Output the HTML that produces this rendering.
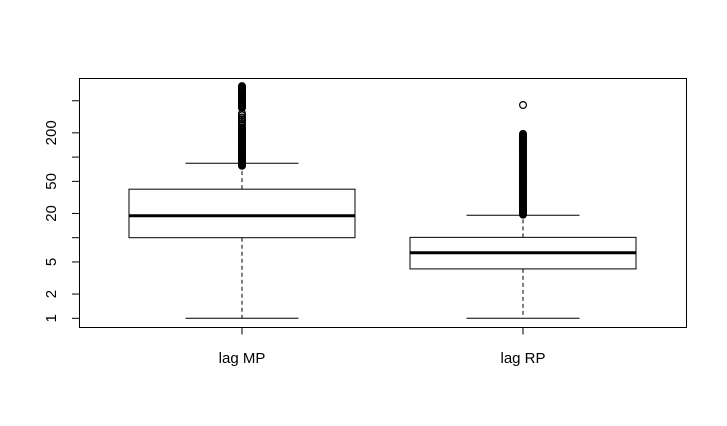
<!DOCTYPE html>
<html><head><meta charset="utf-8"><style>
html,body{margin:0;padding:0;background:#fff;}
svg{display:block;font-family:"Liberation Sans",sans-serif;}
</style></head><body>
<svg id="chart" width="727" height="426" viewBox="0 0 727 426" xmlns="http://www.w3.org/2000/svg">
<rect x="0" y="0" width="727" height="426" fill="#fff"/>
<g id="marks"></g>
<g id="axes"></g>
<rect x="79.5" y="78.5" width="607" height="249" fill="none" stroke="#000" stroke-width="1"/>
</svg>
<script>
const categories = ["lag MP", "lag RP"];
const lowerWhisker = [1, 1];
const q1 = [10, 4.1];
const medians = [18.7, 6.5];
const q3 = [40, 10.1];
const upperWhisker = [84, 19];
const outliersMP = [760,740,720,700,680,660,640,620,600,585,570,555,540,525,510,495,480,465,450,440,430,420,410,350,330,310,295,280,265,250,235,228,221,214,207,200,194,188,182,176,170,165,160,155,150,145,140,136,132,128,124,120,116,113,110,107,104,101,98,95,92,90,88,86,84,82,80,78];
const outliersRP = [443,194,188,183,178,173,168,163,158,154,150,146,142,138,134,130,126,123,119,116,112,109,106,103,100,97,94,92,89,87,84,82,79,77,75,73,71,69,67,65,63,61,59,58,56,55,53,52,50,49,47,46,44.5,43.5,42,41,40,39,37.5,36.5,35.5,34.5,33.5,32.5,31.5,31,30,29,28,27.5,26.5,26,25,24.5,23.5,23,22.5,22,21.3,20.8,20.2,19.6,19.3];
const outliers = [outliersMP, outliersRP];
const yTicks = [1, 2, 5, 10, 20, 50, 100, 200, 500];
const yTickLabels = ["1", "2", "5", "", "20", "50", "", "200", ""];

const NS = "http://www.w3.org/2000/svg";
const PX_PER_DECADE = 80.6, Y_AT_1 = 318.3;
function yScale(v){ return Y_AT_1 - Math.log10(v) * PX_PER_DECADE; }
const PLOT_L = 79, PLOT_R = 686, XMIN = 0.42, XMAX = 2.58;
function xScale(i){ return PLOT_L + (i + 1 - XMIN) / (XMAX - XMIN) * (PLOT_R - PLOT_L); }
const BOX_HALF = 113, CAP_HALF = 56.5;

function mk(tag, attrs, parent){
  const e = document.createElementNS(NS, tag);
  for (const k in attrs) e.setAttribute(k, attrs[k]);
  parent.appendChild(e);
  return e;
}
const marks = document.getElementById("marks");
const axes = document.getElementById("axes");

categories.forEach((c, i) => {
  const cx = xScale(i);
  const g = mk("g", {}, marks);
  
  
  const w1 = mk("line", {x1:cx, x2:cx, y1:yScale(q3[i]), y2:yScale(upperWhisker[i]), stroke:"#000", "stroke-dasharray":"4,3"}, g);
  
  
  const w2 = mk("line", {x1:cx, x2:cx, y1:yScale(q1[i]), y2:yScale(lowerWhisker[i]), stroke:"#000", "stroke-dasharray":"4,3"}, g);
  
  
  const c1 = mk("line", {x1:cx-CAP_HALF, x2:cx+CAP_HALF, y1:yScale(upperWhisker[i]), y2:yScale(upperWhisker[i]), stroke:"#000"}, g);
  
  
  const c2 = mk("line", {x1:cx-CAP_HALF, x2:cx+CAP_HALF, y1:yScale(lowerWhisker[i]), y2:yScale(lowerWhisker[i]), stroke:"#000"}, g);
  
  
  const top = yScale(q3[i]), bot = yScale(q1[i]);
  const box = mk("rect", {x:cx-BOX_HALF, y:top, width:2*BOX_HALF, height:bot-top, fill:"#fff", stroke:"#000"}, g);
  
  
  const med = mk("line", {x1:cx-BOX_HALF, x2:cx+BOX_HALF, y1:yScale(medians[i]), y2:yScale(medians[i]), stroke:"#000", "stroke-width":3}, g);
  
  
  outliers[i].forEach(v => {
    const p = mk("circle", {cx:cx, cy:yScale(v), r:3.4, fill:"none", stroke:"#000", "stroke-width":1.2}, g);
    
    
  });
  const t = mk("line", {x1:cx, x2:cx, y1:327.5, y2:334.5, stroke:"#000"}, axes);
  
  
  const lb = mk("text", {x:cx, y:363, "text-anchor":"middle", "font-size":"15"}, axes);
  lb.textContent = c;
  
  
});

yTicks.forEach((v, k) => {
  const y = yScale(v);
  const t = mk("line", {x1:72, x2:79.5, y1:y, y2:y, stroke:"#000"}, axes);
  
  
  if (yTickLabels[k]) {
    const lb = mk("text", {x:0, y:0, "text-anchor":"middle", "font-size":"15", transform:"translate(56," + y + ") rotate(-90)"}, axes);
    lb.textContent = yTickLabels[k];
    
    
  }
});
</script>
</body></html>
